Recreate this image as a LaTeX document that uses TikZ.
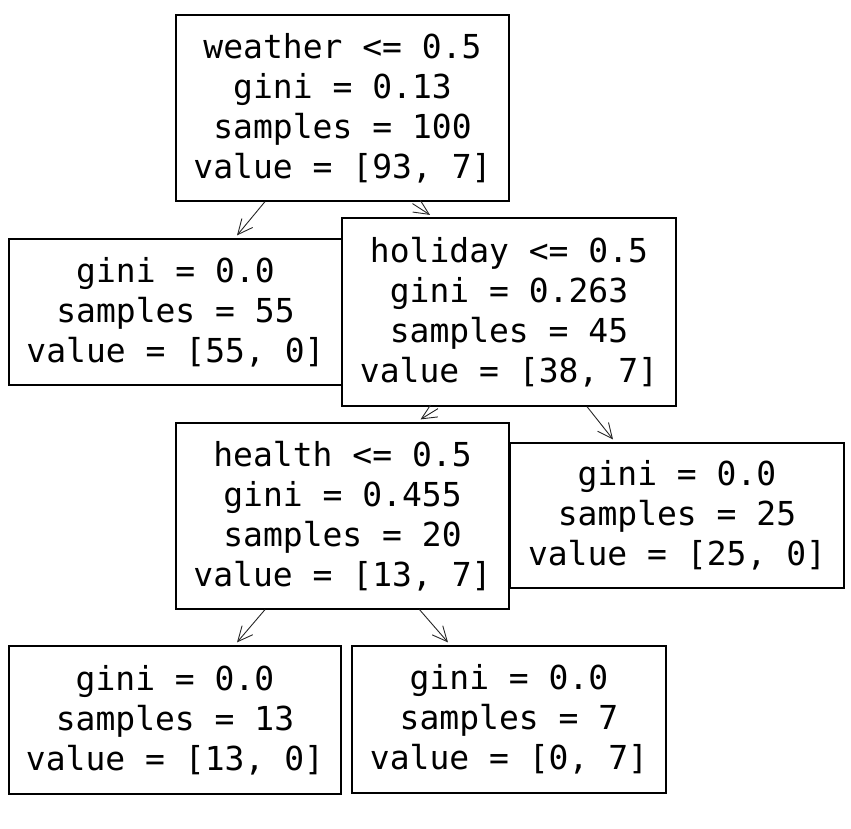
\documentclass[tikz,border=0pt]{standalone}
\usepackage{fontspec}
\newfontfamily\treefont{DejaVu Sans Mono}
\usetikzlibrary{arrows.meta}
\tikzset{
  treebox/.style={draw=black, line width=1.2pt, fill=white, align=center,
    inner sep=0pt, font=\treefont\fontsize{33}{40}\selectfont},
  arr/.style={-{Straight Barb[length=15pt,width=14pt]}, line width=0.9pt, draw=black!85}
}
\begin{document}
\begin{tikzpicture}[x=1pt,y=-1pt]
\useasboundingbox (0,0) rectangle (851,829);
\node[treebox, minimum width=333pt, minimum height=186pt] (root) at (342.5,108) {weather <= 0.5\\gini = 0.13\\samples = 100\\value = [93, 7]};
\node[treebox, minimum width=333pt, minimum height=146pt] (leafa) at (175.5,312) {gini = 0.0\\samples = 55\\value = [55, 0]};
\node[treebox, minimum width=334pt, minimum height=188pt] (hol) at (509,312) {holiday <= 0.5\\gini = 0.263\\samples = 45\\value = [38, 7]};
\node[treebox, minimum width=333pt, minimum height=186pt] (hea) at (342.5,516) {health <= 0.5\\gini = 0.455\\samples = 20\\value = [13, 7]};
\node[treebox, minimum width=334pt, minimum height=145pt] (leafb) at (677,515.5) {gini = 0.0\\samples = 25\\value = [25, 0]};
\node[treebox, minimum width=332pt, minimum height=148pt] (leafc) at (175,720) {gini = 0.0\\samples = 13\\value = [13, 0]};
\node[treebox, minimum width=314pt, minimum height=147pt] (leafd) at (509,719.5) {gini = 0.0\\samples = 7\\value = [0, 7]};
\draw[arr] ([xshift=-77.5pt]root.south) -- ([xshift=61.5pt,yshift=3pt]leafa.north);
\draw[arr] ([xshift=70pt,yshift=-2pt]root.south) -- ([xshift=-79pt,yshift=2.5pt]hol.north);
\draw[arr] ([xshift=-71pt,yshift=-2pt]hol.south) -- ([xshift=78pt,yshift=3pt]hea.north);
\draw[arr] ([xshift=78pt]hol.south) -- ([xshift=-64pt,yshift=3pt]leafb.north);
\draw[arr] ([xshift=-77.5pt]hea.south) -- ([xshift=62pt,yshift=3pt]leafc.north);
\draw[arr] ([xshift=77pt]hea.south) -- ([xshift=-61pt,yshift=3pt]leafd.north);
\end{tikzpicture}
\end{document}
